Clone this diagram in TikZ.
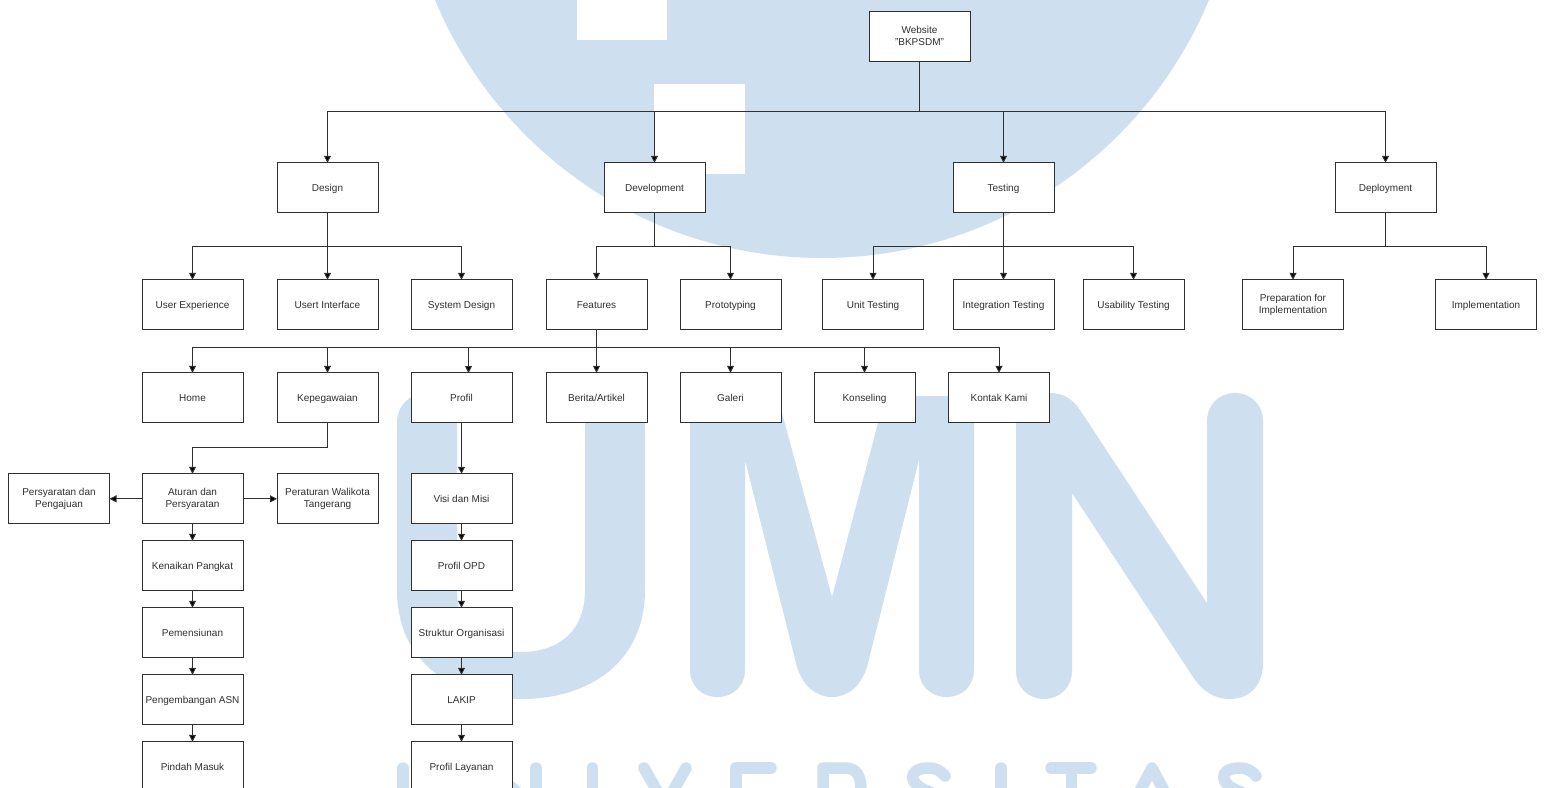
\documentclass[tikz,border=0pt]{standalone}
\usepackage{fontspec}
\setmainfont{Liberation Sans}
\usetikzlibrary{arrows.meta}
\definecolor{wm}{RGB}{206,224,240}
\definecolor{ink}{RGB}{48,48,48}
\newcommand{\boxstrut}{\rule[-2.6pt]{0pt}{12pt}}
\tikzset{
  box/.style={draw=ink,line width=1pt,fill=white,minimum width=101pt,minimum height=50.2pt,inner sep=0pt,outer sep=0pt,align=center,text=ink,yshift=0.15pt,font=\fontsize{10}{12}\selectfont,execute at begin node=\boxstrut,execute at end node=\boxstrut},
  conn/.style={draw=ink,line width=1pt,-{Triangle[length=7pt,width=7pt,fill=black]}},
  wmfill/.style={fill=wm,draw=none},
  wmline/.style={draw=wm,line width=11.5pt,line cap=round,line join=round}
}
\begin{document}
\begin{tikzpicture}[x=1pt,y=-1pt]
\useasboundingbox (0,0) rectangle (1544,787);
\clip (0,0) rectangle (1544,787);
\fill[white] (0,0) rectangle (1544,787);
% watermark logo
\fill[wmfill] (822,-161) circle (419);
\fill[white] (577,-5) rectangle (667,40);
\fill[white] (654,84) rectangle (744.5,174);
% U
\fill[wmfill] (397,423) .. controls (397,405) and (410,393) .. (427,393) .. controls (444,393) and (457,405) .. (457,423)
  -- (457,590) .. controls (457,630) and (482,652) .. (521,652) .. controls (560,652) and (585,630) .. (585,590)
  -- (585,423) .. controls (585,405) and (598,393) .. (615,393) .. controls (632,393) and (645,405) .. (645,423)
  -- (645,590) .. controls (645,660) and (592,699) .. (521,699) .. controls (450,699) and (397,660) .. (397,590) -- cycle;
% M
\fill[wmfill] (690,423) .. controls (690,405) and (702,396) .. (720,396) -- (750,396) .. controls (765,396) and (776,400) .. (782,413)
  -- (832,597) -- (878,423) .. controls (882,405) and (895,396) .. (915,396) -- (945,396)
  .. controls (962,396) and (974,405) .. (974,423) -- (974,670) .. controls (974,686) and (962,697) .. (946.5,697)
  .. controls (931,697) and (919,686) .. (919,670) -- (919,460) -- (867,667)
  .. controls (861,686) and (848,697) .. (832,697) .. controls (816,697) and (803,686) .. (797,667)
  -- (745,460) -- (745,670) .. controls (745,686) and (733,697) .. (717.5,697) .. controls (702,697) and (690,686) .. (690,670) -- cycle;
% N
\fill[wmfill] (1016,425) .. controls (1016,405) and (1030,393) .. (1050,393) .. controls (1062,393) and (1072,398) .. (1080,410)
  -- (1207,603) -- (1207,421) .. controls (1207,405) and (1219,393) .. (1235,393) .. controls (1251,393) and (1263,405) .. (1263,421)
  -- (1263,663) .. controls (1263,685) and (1250,699) .. (1230,699) .. controls (1215,699) and (1203,692) .. (1193,677)
  -- (1072,493) -- (1072,671) .. controls (1072,687) and (1060,699) .. (1044,699) .. controls (1028,699) and (1016,687) .. (1016,671) -- cycle;
% lower line of the logo
\draw[wmline] (403,768) -- (403,800);
\draw[wmline] (470,750) -- (530,804);
\draw[wmline] (536,768) -- (536,800);
\draw[wmline] (592.5,768) -- (592.5,800);
\draw[wmline] (644,768) -- (665,805) -- (686,768);
\draw[wmline] (736,800) -- (736,768) -- (771,768);
\draw[wmline] (823,800) -- (823,768) -- (845,768) .. controls (856,768) and (861,775) .. (861,790);
\draw[wmline] (945,776) .. controls (940,770) and (935,768) .. (929,768) .. controls (906,768) and (908,785) .. (930,792);
\draw[wmline] (1001,768) -- (1001,800);
\draw[wmline] (1051,768) -- (1091,768);
\draw[wmline] (1071.5,768) -- (1071.5,800);
\draw[wmline] (1134,802) -- (1152,768) -- (1170,802);
\draw[wmline] (1256,776) .. controls (1251,770) and (1246,768) .. (1240,768) .. controls (1217,768) and (1219,785) .. (1241,792);
% nodes
\node[box] (web) at (919.5,37) {Website\\"BKPSDM"};
\node[box] (des) at (327.5,188) {Design};
\node[box] (dev) at (654.5,188) {Development};
\node[box] (tes) at (1003.5,188) {Testing};
\node[box] (dep) at (1385.5,188) {Deployment};
\node[box] (ux) at (192.5,305) {User Experience};
\node[box] (ui) at (327.5,305) {Usert Interface};
\node[box] (sys) at (461.5,305) {System Design};
\node[box] (fea) at (596.5,305) {Features};
\node[box] (pro) at (730.5,305) {Prototyping};
\node[box] (unit) at (873,305) {Unit Testing};
\node[box] (int) at (1003.5,305) {Integration Testing};
\node[box] (usa) at (1133.5,305) {Usability Testing};
\node[box] (pre) at (1293,305) {Preparation for\\Implementation};
\node[box] (imp) at (1486,305) {Implementation};
\node[box] (home) at (192.5,398) {Home};
\node[box] (kep) at (327.5,398) {Kepegawaian};
\node[box] (prof) at (461.5,398) {Profil};
\node[box] (ber) at (596.5,398) {Berita/Artikel};
\node[box] (gal) at (730.5,398) {Galeri};
\node[box] (kon) at (864.5,398) {Konseling};
\node[box] (kam) at (999,398) {Kontak Kami};
\node[box] (psy) at (59,499) {Persyaratan dan\\Pengajuan};
\node[box] (atu) at (192.5,499) {Aturan dan\\Persyaratan};
\node[box] (per) at (327.5,499) {Peraturan Walikota\\Tangerang};
\node[box] (kn) at (192.5,566) {Kenaikan Pangkat};
\node[box] (pem) at (192.5,633) {Pemensiunan};
\node[box] (asn) at (192.5,700) {Pengembangan ASN};
\node[box] (pin) at (192.5,767) {Pindah Masuk};
\node[box] (vis) at (461.5,499) {Visi dan Misi};
\node[box] (opd) at (461.5,566) {Profil OPD};
\node[box] (str) at (461.5,633) {Struktur Organisasi};
\node[box] (lak) at (461.5,700) {LAKIP};
\node[box] (lay) at (461.5,767) {Profil Layanan};
\coordinate (profin) at (468.5,373);
% connectors
\foreach \t in {des,dev,tes,dep} \draw[conn] (web.south) -- ++(0,50) -| (\t.north);
\foreach \t in {ux,ui,sys} \draw[conn] (des.south) -- ++(0,34) -| (\t.north);
\foreach \t in {fea,pro} \draw[conn] (dev.south) -- ++(0,34) -| (\t.north);
\foreach \t in {unit,int,usa} \draw[conn] (tes.south) -- ++(0,34) -| (\t.north);
\foreach \t in {pre,imp} \draw[conn] (dep.south) -- ++(0,34) -| (\t.north);
\foreach \t in {home,kep,profin,ber,gal,kon,kam} \draw[conn] (fea.south) -- ++(0,18) -| (\t);
\draw[conn] (kep.south) -- ++(0,25) -| (atu.north);
\draw[conn] (atu.west) -- (psy.east);
\draw[conn] (atu.east) -- (per.west);
\draw[conn] (atu.south) -- (kn.north);
\draw[conn] (kn.south) -- (pem.north);
\draw[conn] (pem.south) -- (asn.north);
\draw[conn] (asn.south) -- (pin.north);
\draw[conn] (prof.south) -- (vis.north);
\draw[conn] (vis.south) -- (opd.north);
\draw[conn] (opd.south) -- (str.north);
\draw[conn] (str.south) -- (lak.north);
\draw[conn] (lak.south) -- (lay.north);
\end{tikzpicture}
\end{document}
